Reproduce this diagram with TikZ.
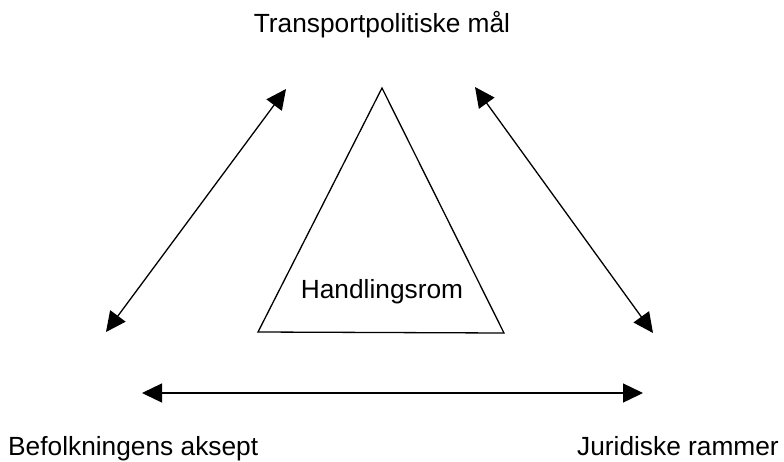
\documentclass[tikz,border=0pt]{standalone}
\usepackage{fontspec}
\setmainfont{Liberation Sans}
\usetikzlibrary{arrows.meta}
\begin{document}
\begin{tikzpicture}[x=1pt,y=-1pt,
  lbl/.style={inner sep=0pt,anchor=base,font=\fontsize{26.3}{30}\selectfont},
  dbl/.style={line width=1.3pt,{Triangle[length=20pt,width=19pt]}-{Triangle[length=20pt,width=19pt]}},
  tri/.style={line width=1.3pt,line join=miter}]
\useasboundingbox (0,0) rectangle (784,461);
\node[lbl] (top) at (382,32) {Transportpolitiske mål};
\node[lbl] (mid) at (382,298) {Handlingsrom};
\node[lbl,anchor=base west] (left) at (8,455) {Befolkningens aksept};
\node[lbl,anchor=base east] (right) at (779,455) {Juridiske rammer};
\coordinate (apex) at (382,88);
\coordinate (bl) at (258,332);
\coordinate (br) at (504,333);
\draw[tri] (apex) -- (bl) -- (br) -- cycle;
\coordinate (a1) at (286,89);
\coordinate (a2) at (106,332);
\coordinate (b1) at (475,87);
\coordinate (b2) at (653,333);
\coordinate (c1) at (142,393);
\coordinate (c2) at (643,393);
\draw[dbl] (a1) -- (a2);
\draw[dbl] (b1) -- (b2);
\draw[dbl] (c1) -- (c2);
\end{tikzpicture}
\end{document}
